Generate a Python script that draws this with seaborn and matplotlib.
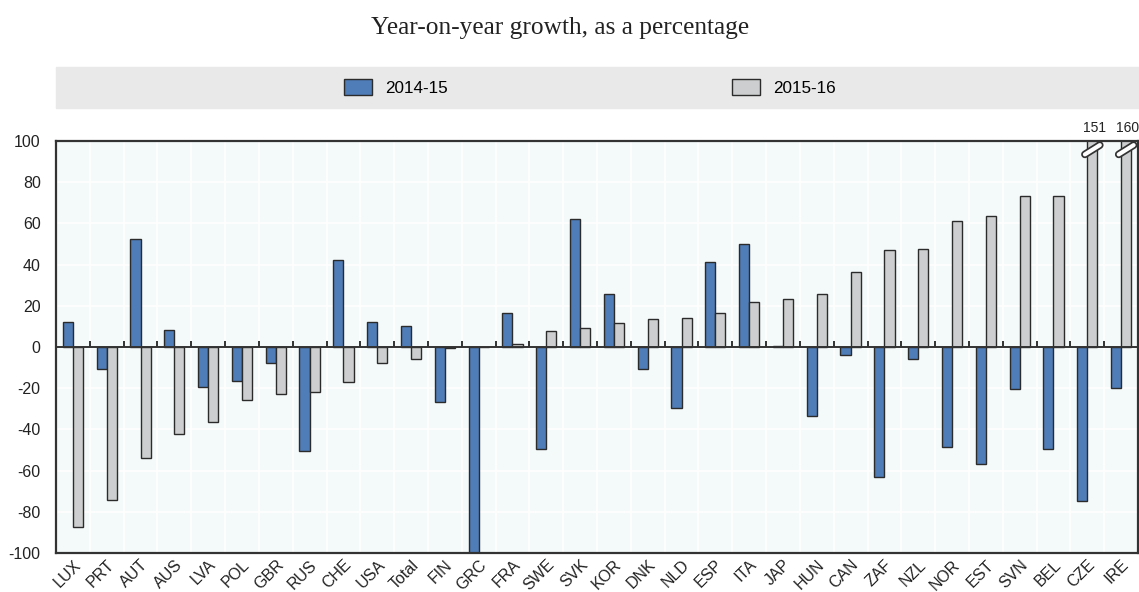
import numpy as np
import pandas as pd
import matplotlib
matplotlib.use("Agg")
import matplotlib.pyplot as plt
from matplotlib.patches import Rectangle
import seaborn as sns

plt.rcParams["axes.unicode_minus"] = False

countries = ["LUX", "PRT", "AUT", "AUS", "LVA", "POL", "GBR", "RUS", "CHE", "USA",
             "Total", "FIN", "GRC", "FRA", "SWE", "SVK", "KOR", "DNK", "NLD", "ESP",
             "ITA", "JAP", "HUN", "CAN", "ZAF", "NZL", "NOR", "EST", "SVN", "BEL",
             "CZE", "IRE"]
growth_2014_15 = [12.1, -10.5, 52.6, 8.4, -19.4, -16.5, -7.6, -50.7, 42.1, 12.0,
                  10.2, -26.9, -100.0, 16.5, -49.7, 62.0, 25.6, -10.9, -29.5, 41.1,
                  50.0, 0.4, -33.7, -4.0, -63.3, -5.8, -48.4, -56.7, -20.6, -49.7,
                  -74.7, -19.9]
growth_2015_16 = [-87.4, -74.2, -53.8, -42.4, -36.6, -25.9, -23.0, -22.0, -16.8, -7.9,
                  -6.0, -0.6, 0.0, 1.5, 7.9, 9.2, 11.5, 13.4, 13.9, 16.4,
                  21.7, 23.2, 25.6, 36.6, 47.1, 47.4, 61.4, 63.6, 73.4, 73.4,
                  151.0, 160.0]
periods = ["2014-15", "2015-16"]
colors = ["#4f7db8", "#cdcecf"]
title = "Year-on-year growth, as a percentage"
y_min, y_max = -100, 100

df = pd.DataFrame({
    "country": countries * 2,
    "value": growth_2014_15 + growth_2015_16,
    "period": [periods[0]] * len(countries) + [periods[1]] * len(countries),
})

W, H = 1139, 592
fig = plt.figure(figsize=(W / 100, H / 100), dpi=100)
ax = fig.add_axes([56 / W, 1 - 553 / H, (1138 - 56) / W, (553 - 141) / H])
ax.set_facecolor("#f4f9fa")

sns.barplot(data=df, x="country", y="value", hue="period", order=countries,
            hue_order=periods, palette=colors, saturation=1, width=0.6,
            errorbar=None, edgecolor="#2b2b2b", linewidth=1.0, ax=ax, zorder=3)

handles, labels = ax.get_legend_handles_labels()
if ax.get_legend() is not None:
    ax.get_legend().remove()

n = len(countries)
ax.set_xlim(-0.5, n - 0.5)
ax.set_ylim(y_min, y_max)
ax.set_yticks(np.arange(-100, 101, 20))
ax.set_xticks(np.arange(-0.5, n, 1.0), minor=True)
ax.grid(which="major", axis="y", color="white", lw=1.2, zorder=0)
ax.grid(which="minor", axis="x", color="white", lw=1.2, zorder=0)
ax.grid(which="major", axis="x", visible=False)
ax.set_axisbelow(True)
ax.set_xlabel("")
ax.set_ylabel("")
ax.tick_params(axis="x", which="both", length=0, labelsize=11.5, pad=3)
ax.tick_params(axis="y", length=0, labelsize=11.5, pad=11)
for lab in ax.get_xticklabels():
    lab.set_rotation(45)
    lab.set_ha("right")
    lab.set_rotation_mode("anchor")
for lab in ax.get_yticklabels() + ax.get_xticklabels():
    lab.set_family("Liberation Sans")
    lab.set_color("#222222")
for s in ax.spines.values():
    s.set_color("#333333")
    s.set_linewidth(1.6)
    s.set_zorder(5)

# zero line and small category-boundary ticks
ax.axhline(0, color="#333333", lw=1.4, zorder=4)
ax.vlines(np.arange(0.5, n - 1, 1.0), 0, 3.0, color="#333333", lw=1.4, zorder=4)

# break markers for off-scale bars
offset = 0.15
for i, (c, v) in enumerate(zip(countries, growth_2015_16)):
    if v > y_max:
        xc = i + offset
        ax.plot([xc - 0.22, xc + 0.22], [93.5, 98.0], color="#333333", lw=5.5,
                solid_capstyle="round", zorder=6, clip_on=False)
        ax.plot([xc - 0.22, xc + 0.22], [93.5, 98.0], color="white", lw=3.0,
                solid_capstyle="round", zorder=7, clip_on=False)
        ax.annotate(f"{v:.0f}", (xc + 0.05, y_max), xytext=(0, 4),
                    textcoords="offset points", ha="center", va="bottom",
                    fontsize=10, family="Liberation Sans", color="#222222",
                    annotation_clip=False)

# legend band
fig.patches.append(Rectangle((56 / W, 1 - 108 / H), (W - 56) / W, 41 / H,
                             transform=fig.transFigure, color="#e9e9ea", zorder=0))
fig.legend(handles, labels, loc="center", bbox_to_anchor=(590 / W, 1 - 87.5 / H),
           ncol=2, frameon=False, columnspacing=16.6, handlelength=1.65,
           handleheight=1.0, handletextpad=0.8,
           prop={"family": "Liberation Sans", "size": 12.3})

fig.text(560 / W, 1 - 28 / H, title, ha="center", va="center",
         family="Liberation Serif", fontsize=18.3, color="#222222")

fig.savefig("out.png", dpi=100)
